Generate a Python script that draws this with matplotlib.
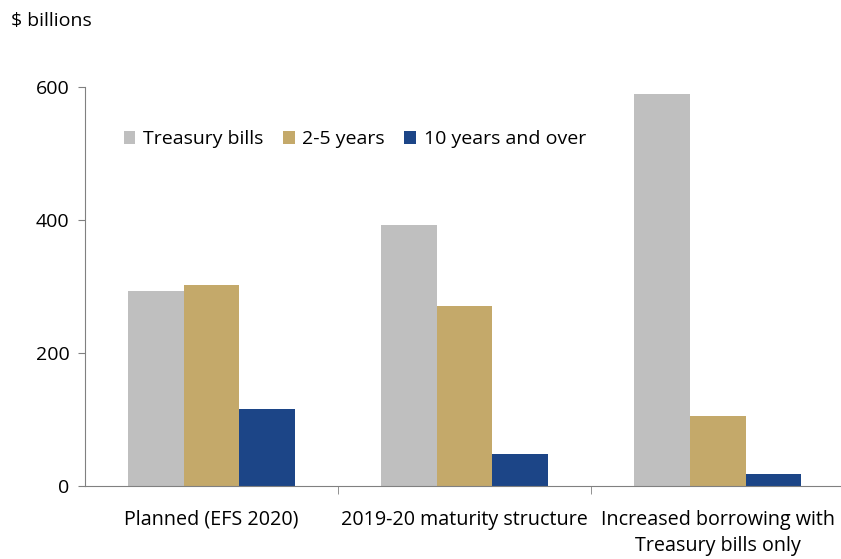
import matplotlib.pyplot as plt
import numpy as np

plt.rcParams['font.family'] = ['Open Sans', 'DejaVu Sans']

categories = ["Planned (EFS 2020)", "2019-20 maturity structure",
              "Increased borrowing with\nTreasury bills only"]
series_names = ["Treasury bills", "2-5 years", "10 years and over"]
treasury_bills = [293, 392, 589]
years_2_5 = [302, 271, 105]
years_10_over = [116, 48, 18]
colors = ["#BFBFBF", "#C4A96A", "#1C4587"]

fig = plt.figure(figsize=(8.41, 5.59), dpi=100)
ax = fig.add_axes([0.101, 0.1306, 0.903, 0.7138])

x = np.arange(len(categories))
width = 0.22
for i, (vals, name) in enumerate(zip([treasury_bills, years_2_5, years_10_over], series_names)):
    ax.bar(x + (i - 1) * width, vals, width, color=colors[i], label=name)

ax.set_xlim(-0.5, 2.5)
ax.set_ylim(0, 600)
ax.set_yticks([0, 200, 400, 600])
ax.tick_params(axis='y', labelsize=14, length=5, color='#808080', pad=6)
ax.set_xticks(x)
ax.set_xticklabels(categories, fontsize=14.2, linespacing=1.45)
ax.tick_params(axis='x', length=0, pad=17)
ax.set_xticks([0.5, 1.5], minor=True)
ax.tick_params(axis='x', which='minor', length=6, color='#808080')

for s in ['top', 'right']:
    ax.spines[s].set_visible(False)
for s in ['left', 'bottom']:
    ax.spines[s].set_color('#808080')

fig.text(0.013, 0.962, "$ billions", fontsize=14, va='center')

ax.legend(loc='upper left', bbox_to_anchor=(0.028, 0.935), ncol=3, frameon=False,
          fontsize=14, handlelength=0.6, handleheight=0.6, handletextpad=0.4,
          columnspacing=1.0)

fig.savefig("out.png", dpi=100)
